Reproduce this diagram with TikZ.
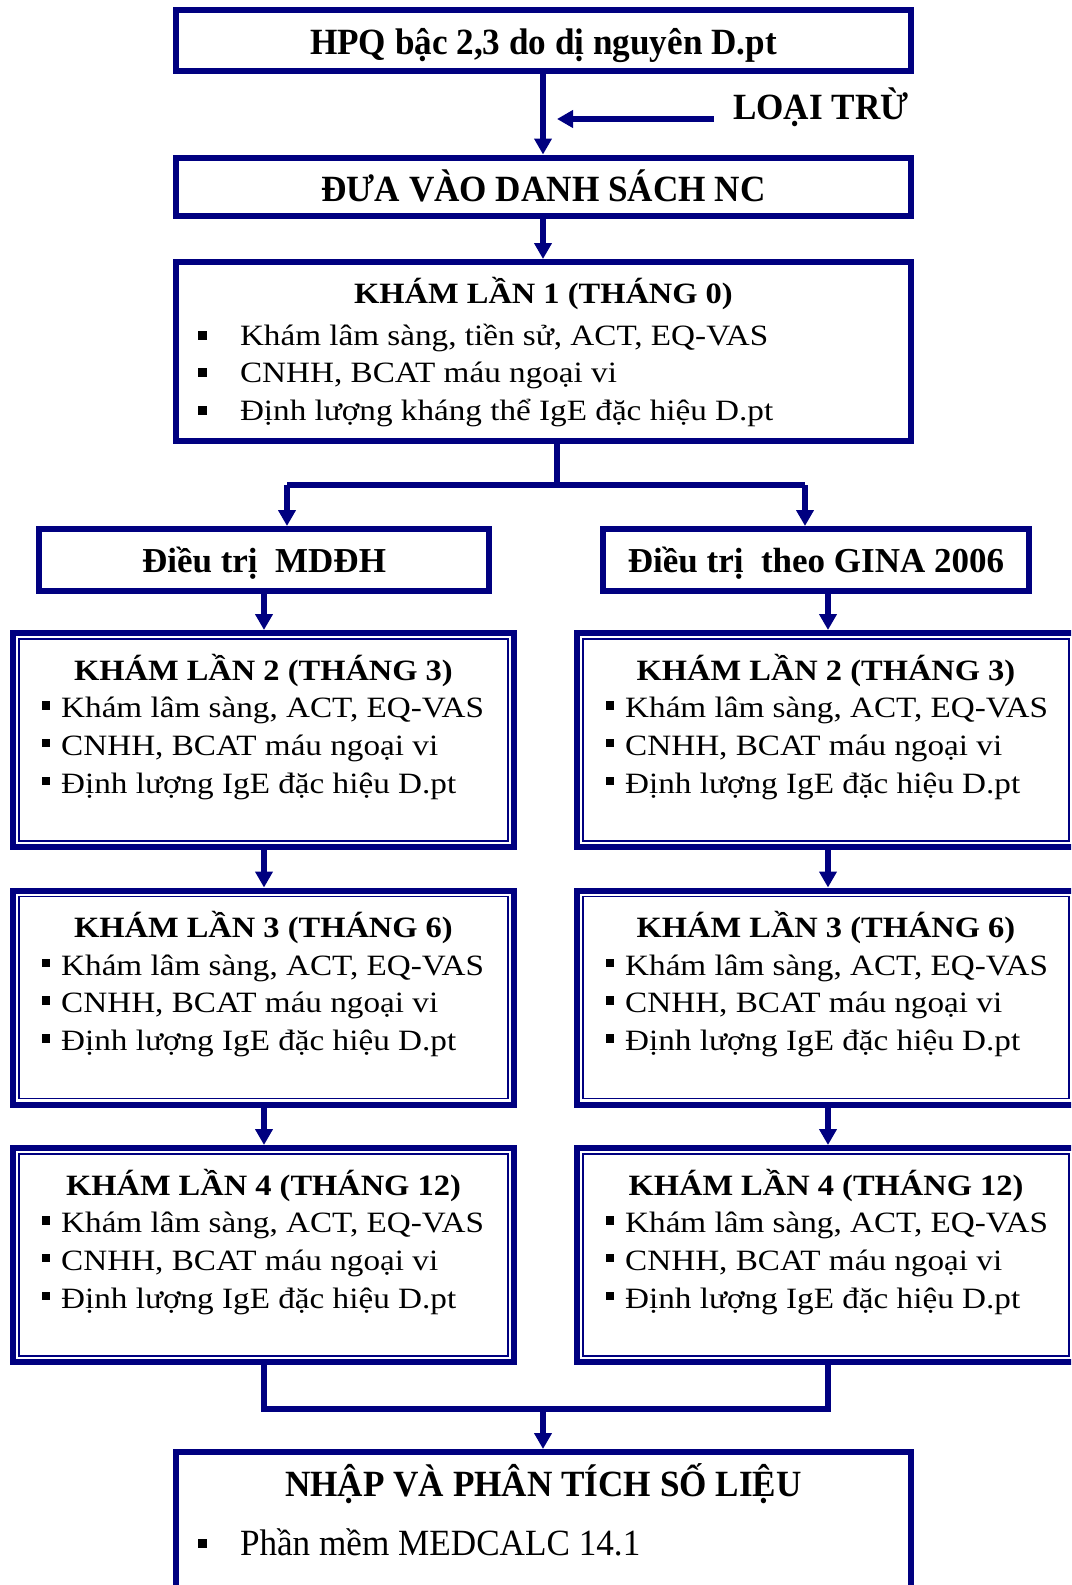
\documentclass[tikz,border=0pt]{standalone}
\usepackage{fontspec}
\setmainfont{Liberation Serif}
\newfontfamily\cfont[FakeStretch=0.95]{Liberation Serif}
\newfontfamily\wfont[FakeStretch=1.1]{Liberation Serif}
\newfontfamily\bfont[FakeStretch=1.125]{Liberation Serif}
\usetikzlibrary{arrows.meta}
\definecolor{nv}{RGB}{0,0,128}
\tikzset{
 box/.style={draw=nv, line width=6pt, rectangle, inner sep=0pt, outer sep=3pt},
 lbl/.style={inner sep=0pt, outer sep=0pt, text=black},
 conn/.style={draw=nv, line width=6pt},
 arr/.style={conn, -{Triangle[length=16pt,width=17pt]}},
 thinline/.style={draw=nv, line width=1.8pt},
 ctitle/.style={lbl, font=\cfont\bfseries\fontsize{37}{44}\selectfont},
 wtitle/.style={lbl, font=\wfont\bfseries\fontsize{29.5}{35}\selectfont},
 wbody/.style={lbl, font=\bfont\fontsize{29.5}{35}\selectfont},
}
\newcommand\Bul[2]{\rule[#1]{#2}{#2}}
\newcommand\KhamBox[5]{%
 \node[box, minimum width=#4pt, minimum height=214pt] (#1) at (#2,#3) {};
 \draw[thinline] ([shift={(9,9)}]#1.north west) rectangle ([shift={(-9,-9)}]#1.south east);
 \node[wtitle, anchor=base] (#1t) at ([shift={(0,50)}]#1.north) {#5};
 \node[wbody, anchor=base west] (#1a) at ([shift={(31.7,87.5)}]#1.north west) {\Bul{7.8pt}{8.5pt}\hspace{11pt}Khám lâm sàng, ACT, EQ-VAS};
 \node[wbody, anchor=base west] (#1b) at ([shift={(31.7,125)}]#1.north west) {\Bul{7.8pt}{8.5pt}\hspace{11pt}CNHH, BCAT máu ngoại vi};
 \node[wbody, anchor=base west] (#1c) at ([shift={(31.7,163)}]#1.north west) {\Bul{7.8pt}{8.5pt}\hspace{11pt}Định lượng IgE đặc hiệu D.pt};
}
\begin{document}
\begin{tikzpicture}[x=1pt,y=-1pt]
\useasboundingbox (0,0) rectangle (1071,1585);
\clip (0,0) rectangle (1071,1585);
\fill[white] (0,0) rectangle (1071,1585);

% column coordinates
\coordinate (colL) at (264,0);
\coordinate (colR) at (828,0);
\coordinate (mid) at (543,0);

% top boxes
\node[box, minimum width=735pt, minimum height=61pt] (top) at (543.5,40.5) {};
\node[ctitle, anchor=base] (topt) at (543.5,54.3) {HPQ bậc 2,3 do dị nguyên D.pt};
\node[ctitle, anchor=base west] (loai) at (733,119) {LOẠI TRỪ};
\coordinate (ex) at (557,119);

\node[box, minimum width=735pt, minimum height=58.5pt] (list) at (543.5,186.75) {};
\node[ctitle, anchor=base] (listt) at (543.5,201) {ĐƯA VÀO DANH SÁCH NC};

\node[box, minimum width=735pt, minimum height=179pt] (k1) at (543.5,351.5) {};
\node[wtitle, anchor=base] (k1t) at (543.5,303) {KHÁM LẦN 1 (THÁNG 0)};
\node[wbody, anchor=base west] (k1a) at (198,345) {\Bul{5.5pt}{9pt}\hspace{33pt}Khám lâm sàng, tiền sử, ACT, EQ-VAS};
\node[wbody, anchor=base west] (k1b) at (198,382.5) {\Bul{5.5pt}{9pt}\hspace{33pt}CNHH, BCAT máu ngoại vi};
\node[wbody, anchor=base west] (k1c) at (198,420) {\Bul{5.5pt}{9pt}\hspace{33pt}Định lượng kháng thể IgE đặc hiệu D.pt};

% treatment boxes
\node[box, minimum width=450pt, minimum height=62pt] (trL) at (264,560) {};
\node[lbl, anchor=base, font=\bfseries\fontsize{35}{42}\selectfont] (trLt) at (264,572) {Điều trị~~MDĐH};
\node[box, minimum width=426pt, minimum height=62pt] (trR) at (816,560) {};
\node[lbl, anchor=base, font=\bfseries\fontsize{35}{42}\selectfont] (trRt) at (816,572) {Điều trị~~theo GINA 2006};

% exam boxes
\KhamBox{L2}{263.5}{740}{501}{KHÁM LẦN 2 (THÁNG 3)}
\KhamBox{R2}{826}{740}{498}{KHÁM LẦN 2 (THÁNG 3)}
\KhamBox{L3}{263.5}{997.5}{501}{KHÁM LẦN 3 (THÁNG 6)}
\KhamBox{R3}{826}{997.5}{498}{KHÁM LẦN 3 (THÁNG 6)}
\KhamBox{L4}{263.5}{1255}{501}{KHÁM LẦN 4 (THÁNG 12)}
\KhamBox{R4}{826}{1255}{498}{KHÁM LẦN 4 (THÁNG 12)}

% bottom box
\node[box, minimum width=735pt, minimum height=148pt] (res) at (543.5,1526) {};
\node[ctitle, anchor=base] (rest) at (543.5,1496) {NHẬP VÀ PHÂN TÍCH SỐ LIỆU};
\node[lbl, anchor=base west, font=\cfont\fontsize{37}{44}\selectfont] (resa) at (198,1555) {\Bul{7.5pt}{9pt}\hspace{33pt}Phần mềm MEDCALC 14.1};

% connectors
\draw[arr] (top.south -| mid) -- (list.north -| mid);
\draw[arr] ([xshift=-19pt]loai.base west) -- (ex);
\draw[arr] (list.south -| mid) -- (k1.north -| mid);

\coordinate (sp) at (557,485);
\coordinate (spL) at (287,485);
\coordinate (spR) at (805,485);
\draw[conn] (k1.south -| sp) -- (sp);
\draw[conn] (spL) -- (spR);
\draw[arr] (spL) -- (trL.north -| spL);
\draw[arr] (spR) -- (trR.north -| spR);

\draw[arr] (trL.south -| colL) -- (L2.north -| colL);
\draw[arr] (trR.south -| colR) -- (R2.north -| colR);
\draw[arr] (L2.south -| colL) -- (L3.north -| colL);
\draw[arr] (R2.south -| colR) -- (R3.north -| colR);
\draw[arr] (L3.south -| colL) -- (L4.north -| colL);
\draw[arr] (R3.south -| colR) -- (R4.north -| colR);

\coordinate (mg) at (543,1409);
\draw[conn] (L4.south -| colL) |- (mg) -| (R4.south -| colR);
\draw[arr] (mg) -- (res.north -| mg);
\end{tikzpicture}
\end{document}
